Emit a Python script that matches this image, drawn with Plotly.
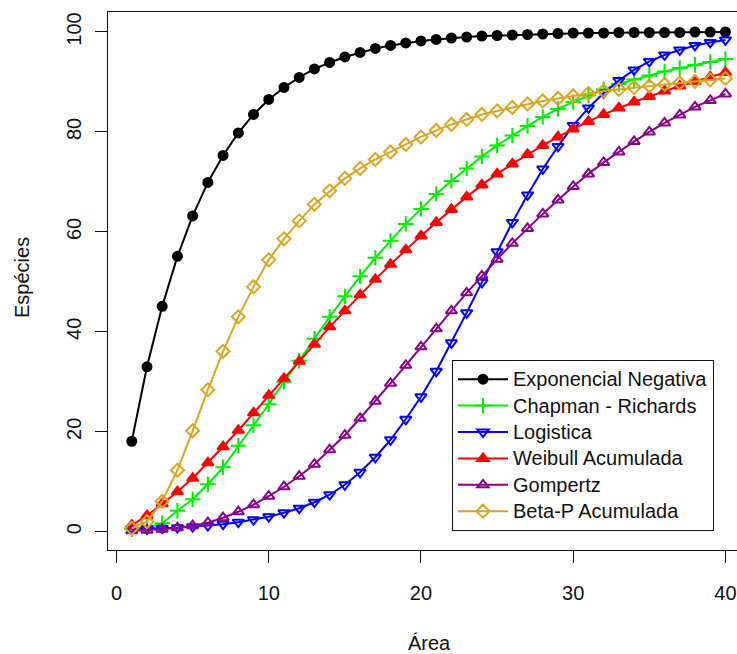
import plotly.graph_objects as go

area = list(range(1, 41))

exponencial_negativa = [18.1, 33.0, 45.1, 55.1, 63.2, 69.9, 75.3, 79.8, 83.5, 86.5,
                        88.9, 90.9, 92.6, 93.9, 95.0, 95.9, 96.7, 97.3, 97.8, 98.2,
                        98.5, 98.8, 99.0, 99.2, 99.3, 99.4, 99.5, 99.6, 99.7, 99.8,
                        99.8, 99.8, 99.9, 99.9, 99.9, 99.9, 99.9, 100.0, 100.0, 100.0]

chapman_richards = [0.5, 0.8, 1.7, 4.2, 6.5, 9.5, 12.9, 17.2, 21.3, 25.5,
                    30.0, 34.2, 38.6, 43.0, 47.1, 51.1, 54.8, 58.2, 61.6, 64.6,
                    67.6, 70.2, 72.7, 75.1, 77.3, 79.3, 81.2, 83.0, 84.6, 86.0,
                    87.3, 88.5, 89.6, 90.5, 91.3, 92.1, 92.8, 93.4, 94.0, 94.6]

logistica = [0.6, 0.6, 0.7, 0.8, 1.0, 1.2, 1.5, 1.9, 2.4, 3.0,
             3.8, 4.7, 5.9, 7.4, 9.4, 11.9, 14.9, 18.4, 22.5, 27.0,
             32.1, 37.8, 43.8, 49.9, 56.0, 61.9, 67.4, 72.6, 77.1, 81.3,
             84.8, 87.8, 90.3, 92.4, 94.1, 95.4, 96.4, 97.3, 97.9, 98.4]

weibull_acumulada = [1.3, 3.2, 5.6, 8.0, 10.7, 13.8, 17.0, 20.3, 23.8, 27.3,
                     30.7, 34.1, 37.5, 41.0, 44.2, 47.4, 50.5, 53.5, 56.4, 59.2,
                     61.9, 64.5, 67.0, 69.4, 71.6, 73.6, 75.5, 77.3, 79.0, 80.6,
                     82.1, 83.5, 84.8, 86.0, 87.1, 88.2, 89.2, 90.1, 91.0, 91.9]

gompertz = [0.2, 0.3, 0.5, 0.8, 1.2, 1.8, 2.8, 4.0, 5.4, 7.1,
            9.0, 11.1, 13.5, 16.4, 19.3, 22.7, 26.1, 29.7, 33.3, 37.0,
            40.6, 44.2, 47.8, 51.2, 54.5, 57.7, 60.7, 63.6, 66.4, 69.1,
            71.6, 73.9, 76.0, 78.1, 80.0, 81.8, 83.4, 85.0, 86.3, 87.6]

beta_p_acumulada = [0.7, 2.0, 6.1, 12.3, 20.2, 28.4, 36.1, 43.0, 49.0, 54.4,
                    58.6, 62.2, 65.5, 68.2, 70.7, 72.7, 74.5, 76.0, 77.5, 79.0,
                    80.3, 81.5, 82.5, 83.5, 84.2, 84.9, 85.6, 86.2, 86.7, 87.2,
                    87.7, 88.2, 88.5, 88.9, 89.2, 89.5, 89.8, 90.1, 90.4, 90.7]

series_names = ["Exponencial Negativa", "Chapman - Richards", "Logistica",
                "Weibull Acumulada", "Gompertz", "Beta-P Acumulada"]
series_values = [exponencial_negativa, chapman_richards, logistica,
                 weibull_acumulada, gompertz, beta_p_acumulada]
series_colors = ["#000000", "#00F000", "#0000FF", "#FF0000", "#8B008B", "#DAA520"]
series_symbols = ["circle", "cross-thin-open", "triangle-down-open",
                  "triangle-up", "triangle-up-open", "diamond-open"]
series_sizes = [9, 11, 10, 10, 10, 10]

x_ticks = [0, 10, 20, 30, 40]
y_ticks = [0, 20, 40, 60, 80, 100]

FONT = "Liberation Sans, Arial, sans-serif"

fig = go.Figure()
for name, vals, col, sym, sz in zip(series_names, series_values, series_colors,
                                     series_symbols, series_sizes):
    fig.add_trace(go.Scatter(
        x=area, y=vals, mode="lines+markers",
        name='<span style="font-size:20px">' + name + '</span>',
        line=dict(color=col, width=2),
        marker=dict(symbol=sym, size=sz, color=col,
                    line=dict(color=col, width=2)),
    ))

fig.update_layout(
    width=737, height=654,
    margin=dict(l=108, r=0, t=12, b=104, pad=0),
    paper_bgcolor="white", plot_bgcolor="white",
    font=dict(family=FONT, size=20, color="#111111"),
    showlegend=True,
    legend=dict(
        x=(452 - 108) / 629, y=(550 - 360) / 538,
        xanchor="left", yanchor="top",
        bgcolor="white", bordercolor="#111111", borderwidth=1,
        font=dict(family=FONT, size=18, color="#111111"),
        itemwidth=50, tracegroupgap=0,
    ),
    xaxis=dict(
        range=[-0.56, 40.76], tickvals=x_ticks, ticktext=[str(v) for v in x_ticks],
        showgrid=False, zeroline=False,
        showline=True, linecolor="#111111", linewidth=1, mirror=True,
        ticks="outside", ticklen=12, tickwidth=1, tickcolor="#111111",
        ticklabelstandoff=13,
        tickfont=dict(family=FONT, size=20, color="#111111"),
    ),
    yaxis=dict(
        range=[-3.66, 104.0], tickvals=y_ticks, ticktext=[str(v) for v in y_ticks],
        showgrid=False, zeroline=False,
        showline=True, linecolor="#111111", linewidth=1, mirror=False,
        ticks="outside", ticklen=12, tickwidth=1, tickcolor="#111111",
        tickangle=-90, ticklabelstandoff=6,
        tickfont=dict(family=FONT, size=20, color="#111111"),
    ),
    annotations=[
        dict(text="Área", xref="paper", yref="paper",
             x=(429 - 108) / 629, y=(550 - 643) / 538,
             xanchor="center", yanchor="middle", showarrow=False,
             font=dict(family=FONT, size=20, color="#111111")),
        dict(text="Espécies", xref="paper", yref="paper",
             x=(22 - 108) / 629, y=(550 - 278) / 538, textangle=-90,
             xanchor="center", yanchor="middle", showarrow=False,
             font=dict(family=FONT, size=20, color="#111111")),
    ],
)

fig.write_html("out.html")
